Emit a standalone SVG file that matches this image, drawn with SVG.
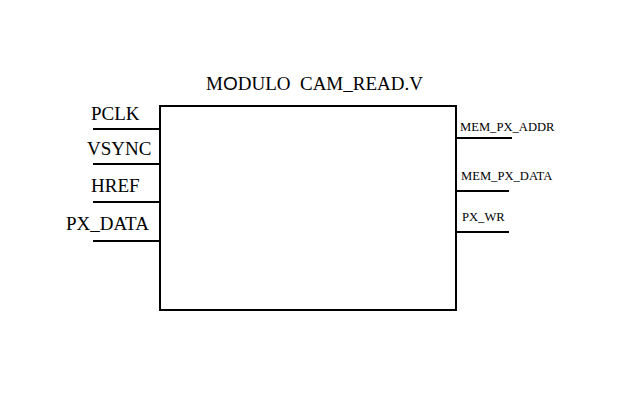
<svg xmlns="http://www.w3.org/2000/svg" width="630" height="408" viewBox="0 0 630 408">
<style>
.t{font-family:"Liberation Serif","Times New Roman",serif;fill:#000}
.big{font-size:19px}
.sm{font-size:12.6px}
.ln{stroke:#000;stroke-width:2;fill:none}
</style>
<rect width="630" height="408" fill="#fff"/>
<text class="t big" x="206" y="90" xml:space="preserve">M<tspan font-family="Liberation Sans, Arial, sans-serif">O</tspan>DULO  CAM_READ.V</text>
<g id="module">
<rect class="ln" x="160" y="106" width="296" height="204"/>
</g>
<g id="connectors">
<line class="ln" x1="93" y1="129" x2="160" y2="129"/>
<line class="ln" x1="93" y1="164" x2="160" y2="164"/>
<line class="ln" x1="93" y1="202" x2="160" y2="202"/>
<line class="ln" x1="93" y1="241" x2="160" y2="241"/>
<line class="ln" x1="456" y1="138" x2="512" y2="138"/>
<line class="ln" x1="456" y1="191" x2="509" y2="191"/>
<line class="ln" x1="456" y1="232" x2="509" y2="232"/>
</g>
<g id="in-pclk"><text class="t big" x="91" y="120">PCLK</text></g>
<g id="in-vsync"><text class="t big" x="87" y="155">VSYNC</text></g>
<g id="in-href"><text class="t big" x="91" y="192">HREF</text></g>
<g id="in-pxdata"><text class="t big" x="66" y="230">PX_DATA</text></g>
<g id="out-addr"><text class="t sm" x="460" y="131">MEM_PX_ADDR</text></g>
<g id="out-data"><text class="t sm" x="461" y="180">MEM_PX_DATA</text></g>
<g id="out-wr"><text class="t sm" x="462" y="221">PX_WR</text></g>
</svg>
